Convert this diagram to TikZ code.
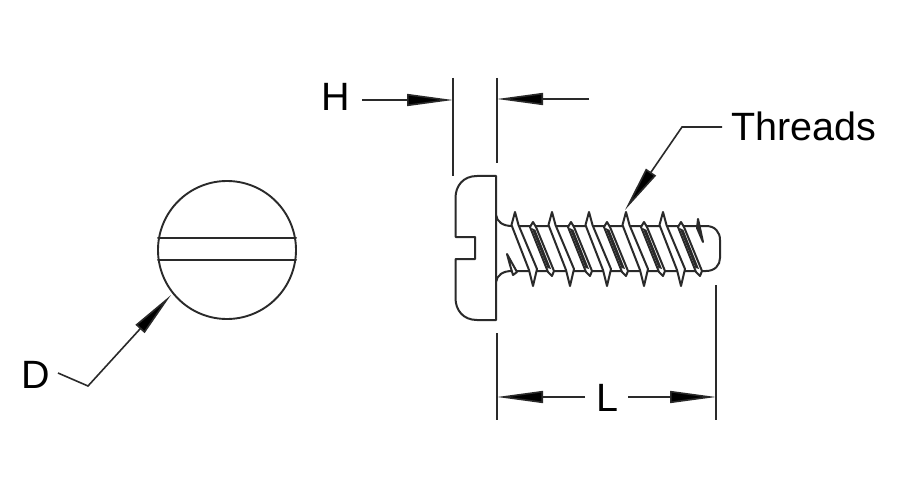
\documentclass[tikz,border=0pt]{standalone}
\usepackage{fontspec}
\setmainfont{Liberation Sans}
\usetikzlibrary{arrows.meta}
\definecolor{ink}{HTML}{2A2A2A}
\tikzset{
  part/.style={draw=ink,line width=2pt,line join=round,line cap=round},
  dim/.style={draw=ink,line width=1.6pt},
  leader/.style={dim,-{Triangle[length=46pt,width=12pt,fill=black]}},
  lbl/.style={inner sep=0pt,font=\fontsize{39.5}{40}\selectfont,text=black},
  big/.pic={
    \path[part,fill=white] (0,0) -- (3.5,13) -- (22,57) -- (18,74) -- (14,58) -- (-3.5,13) -- cycle;
  },
  small/.pic={
    \path[part,fill=white] (0,0) -- (3,5) -- (21,49) -- (19,54) -- (15,50) -- (-3,5) -- cycle;
    \path[fill=ink] (-1.5,6) -- (2.5,8) -- (18,47) -- (14.5,46) -- cycle;
  }
}
\begin{document}
\begin{tikzpicture}[x=1pt,y=-1pt]
\useasboundingbox (0,0) rectangle (900,500);
\fill[white] (0,0) rectangle (900,500);
% end view
\node[circle,draw=ink,line width=1.9pt,minimum size=138pt,inner sep=0pt] (disc) at (227,250) {};
\coordinate (sl1) at (158,238); \coordinate (sr1) at (296,238);
\coordinate (sl2) at (158,260); \coordinate (sr2) at (296,260);
\draw[part] (sl1) -- (sr1) (sl2) -- (sr2);
% side view
\draw[part] (496,176) -- (477,176) .. controls (463,176) and (455.5,186) .. (455.5,198) -- (455.5,237) -- (475,237) -- (475,259) -- (455.5,259) -- (455.5,298) .. controls (455.5,310) and (463,320) .. (477,320) -- (496,320) -- cycle;
\draw[part] (496,215) .. controls (497,222) and (503,226) .. (512,226) -- (706,226) .. controls (715,226) and (720,232) .. (720,240) -- (720,258) .. controls (720,265) and (715,271) .. (706,271) -- (512,271) .. controls (503,271) and (497,275) .. (496,282);
\foreach \x in {515,552,589,626,663} \pic at (\x,212) {big};
\foreach \x in {533,571,607,644,681} \pic at (\x,222) {small};
\draw[part,fill=ink] (698,219) -- (700,228) -- (703,242) -- (697,228) -- cycle;
\draw[part,fill=white] (507,254) -- (517,272) -- (513,275) -- (510,265) -- cycle;
% dimension H
\node[lbl] (H) at (335.5,97) {H};
\coordinate (hl) at (453,100); \coordinate (hr) at (497,99); \coordinate (hend) at (589,99);
\draw[dim] (453,78) -- (453,176);
\draw[dim] (497,78) -- (497,163);
\draw[leader] (362,100) -- (hl);
\draw[leader] (hend) -- (hr);
% Threads
\node[lbl,anchor=west] (T) at (731,126) {Threads};
\coordinate (tk) at (682,127); \coordinate (tt) at (625,210);
\draw[leader] (722,127) -- (tk) -- (tt);
% D
\node[lbl] (D) at (36,375) {D};
\coordinate (dk) at (88,386); \coordinate (dt) at (171,295);
\draw[leader] (58,373) -- (dk) -- (dt);
% L
\node[lbl] (L) at (607,398) {L};
\coordinate (ll) at (497,397); \coordinate (lr) at (716,397);
\draw[dim] (497,333) -- (497,420);
\draw[dim] (716,285) -- (716,420);
\draw[leader] (585,397) -- (ll);
\draw[leader] (628,397) -- (lr);
\end{tikzpicture}
\end{document}
